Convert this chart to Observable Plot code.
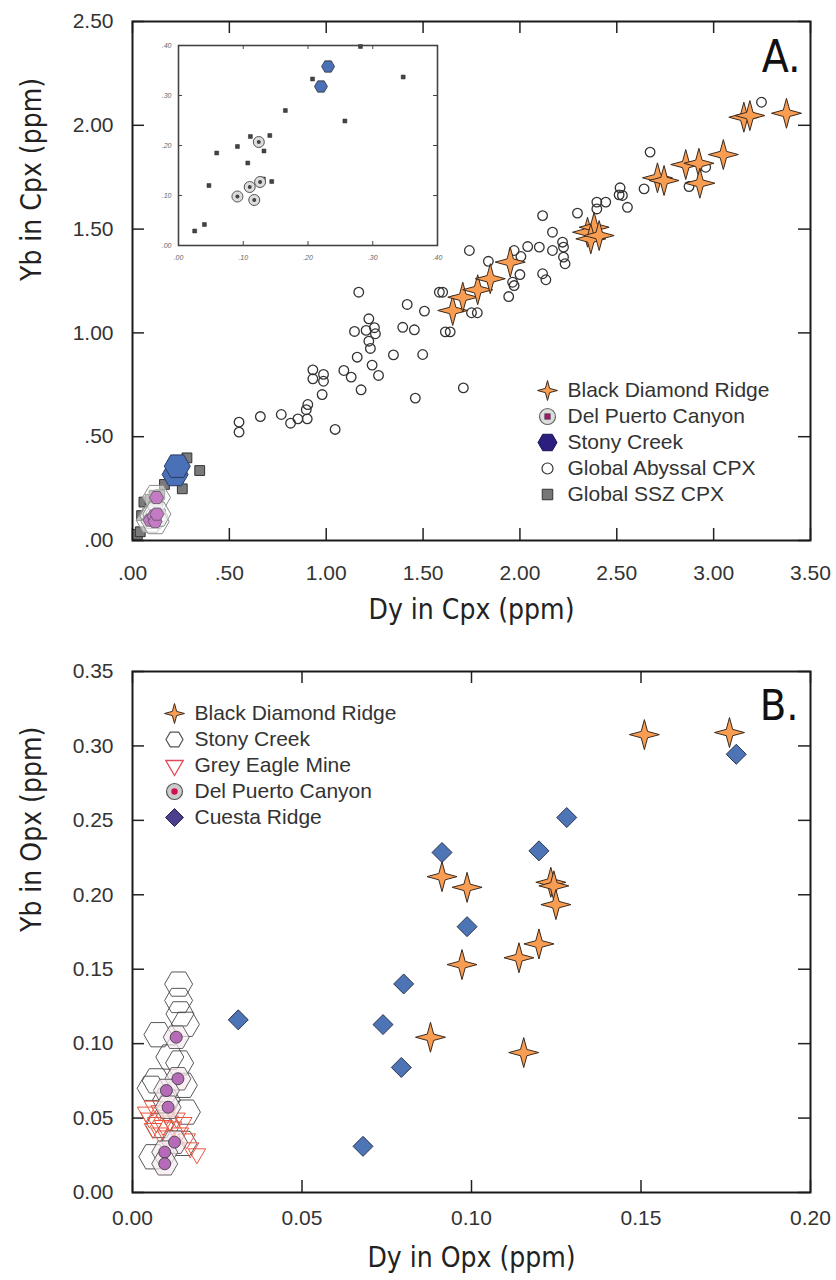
<!DOCTYPE html>
<html>
<head>
<meta charset="utf-8">
<script src="https://cdn.jsdelivr.net/npm/d3@7"></script>
<script src="https://cdn.jsdelivr.net/npm/@observablehq/plot@0.6"></script>
<style>
  body { margin: 0; background: #fff; }
  #wrap { position: relative; width: 836px; height: 1280px; overflow: hidden; }
  #wrap > svg { position: absolute; }
</style>
</head>
<body>
<div id="wrap"></div>
<script>
// ---------- Panel A: clinopyroxene, Dy vs Yb (ppm) ----------
const cpxBlackDiamond = [
  [1.653,1.108],[1.705,1.172],[1.782,1.208],[1.847,1.261],[1.950,1.341],
  [2.349,1.485],[2.383,1.509],[2.366,1.453],[2.409,1.469],
  [2.710,1.747],[2.744,1.734],[2.856,1.811],[2.924,1.817],[2.929,1.721],
  [3.050,1.859],[3.156,2.039],[3.187,2.047],[3.376,2.058]
];
const cpxAbyssal = [
  [0.55,0.57],[0.55,0.522],[0.66,0.597],[0.768,0.607],[0.816,0.565],[0.854,0.586],
  [0.902,0.586],[0.897,0.63],[0.905,0.655],[0.979,0.703],[0.931,0.822],[0.931,0.779],
  [0.986,0.80],[0.986,0.767],[1.046,0.535],[1.091,0.819],[1.129,0.787],[1.180,0.726],
  [1.160,0.883],[1.237,0.845],[1.27,0.795],[1.228,0.925],[1.220,0.96],[1.146,1.007],
  [1.206,1.012],[1.249,1.025],[1.254,0.996],[1.220,1.068],[1.168,1.196],[1.347,0.894],
  [1.498,0.896],[1.46,0.686],[1.708,0.735],[1.395,1.027],[1.455,1.015],[1.418,1.137],
  [1.507,1.105],[1.584,1.196],[1.601,1.196],[1.615,1.005],[1.640,1.005],[1.750,1.097],
  [1.780,1.097],[1.739,1.397],[1.837,1.345],[1.942,1.175],[1.962,1.244],[1.97,1.228],
  [2.0,1.281],[1.97,1.397],[2.005,1.368],[2.04,1.416],[2.1,1.413],[2.117,1.565],
  [2.168,1.485],[2.168,1.397],[2.22,1.437],[2.225,1.413],[2.225,1.365],[2.233,1.333],
  [2.117,1.285],[2.134,1.256],[2.297,1.577],[2.397,1.63],[2.443,1.63],[2.397,1.597],
  [2.517,1.699],[2.529,1.662],[2.512,1.665],[2.555,1.605],[2.641,1.694],[2.672,1.871],
  [2.873,1.705],[2.959,1.798],[3.247,2.111]
];
const cpxSSZ = [
  [0.025,0.029],[0.040,0.042],[0.047,0.120],[0.059,0.185],[0.091,0.198],[0.107,0.165],
  [0.111,0.218],[0.131,0.133],[0.132,0.189],[0.141,0.220],[0.144,0.128],[0.165,0.270],
  [0.207,0.333],[0.257,0.249],[0.281,0.398],[0.347,0.337]
];
const cpxDelPuerto = [[0.091,0.098],[0.110,0.117],[0.117,0.091],[0.124,0.207],[0.126,0.127]];
const cpxStony = [[0.220,0.318],[0.231,0.358]];

const cpxXTicks = [0, 0.5, 1, 1.5, 2, 2.5, 3, 3.5];
const cpxXLabels = [".00", ".50", "1.00", "1.50", "2.00", "2.50", "3.00", "3.50"];
const cpxYTicks = [0, 0.5, 1, 1.5, 2, 2.5];
const cpxYLabels = [".00", ".50", "1.00", "1.50", "2.00", "2.50"];
const insetTicks = [0, 0.1, 0.2, 0.3, 0.4];
const insetLabels = [".00", ".10", ".20", ".30", ".40"];
const cpxLegend = ["Black Diamond Ridge", "Del Puerto Canyon", "Stony Creek", "Global Abyssal CPX", "Global SSZ CPX"];

// ---------- Panel B: orthopyroxene, Dy vs Yb (ppm) ----------
const opxBlackDiamond = [
  [0.151,0.3076],[0.1761,0.309],[0.0913,0.2122],[0.0987,0.205],[0.1234,0.2084],[0.1243,0.206],
  [0.1249,0.1934],[0.1199,0.167],[0.114,0.1577],[0.0972,0.1531],[0.0879,0.1043],[0.1154,0.094]
];
const opxCuesta = [
  [0.1781,0.2944],[0.1281,0.2519],[0.0913,0.2284],[0.1199,0.2295],[0.0987,0.1786],
  [0.0800,0.1401],[0.0739,0.1128],[0.0312,0.116],[0.0680,0.031],[0.0793,0.084]
];
const opxStony = [
  [0.0136,0.140],[0.0136,0.129],[0.0140,0.120],[0.0156,0.113],[0.0075,0.106],[0.0110,0.091],
  [0.0139,0.087],[0.0070,0.075],[0.0055,0.070],[0.0159,0.054],[0.0149,0.033],[0.0060,0.024],
  [0.0100,0.062],[0.0150,0.072],[0.0080,0.045]
];
const opxGreyEagle = [
  [0.006,0.058],[0.008,0.055],[0.010,0.052],[0.005,0.050],[0.007,0.047],[0.009,0.045],
  [0.011,0.048],[0.013,0.050],[0.006,0.043],[0.012,0.044],[0.008,0.040],[0.010,0.038],
  [0.014,0.040],[0.016,0.036],[0.017,0.030],[0.019,0.026],[0.004,0.054],[0.015,0.047]
];
const opxDelPuerto = [
  [0.0129,0.1043],[0.0134,0.0764],[0.0100,0.0685],[0.0105,0.0573],[0.0124,0.0338],
  [0.0095,0.0271],[0.0095,0.0193]
];
const opxXTicks = [0, 0.05, 0.1, 0.15, 0.2];
const opxXLabels = ["0.00", "0.05", "0.10", "0.15", "0.20"];
const opxYTicks = [0, 0.05, 0.1, 0.15, 0.2, 0.25, 0.3, 0.35];
const opxYLabels = ["0.00", "0.05", "0.10", "0.15", "0.20", "0.25", "0.30", "0.35"];
const opxLegend = ["Black Diamond Ridge", "Stony Creek", "Grey Eagle Mine", "Del Puerto Canyon", "Cuesta Ridge"];

// ---------- symbols ----------
function polygon(points) {
  return {
    draw(ctx, size) {
      const r = Math.sqrt(size / Math.PI);
      points.forEach(([px, py], i) => (i ? ctx.lineTo(px * r, py * r) : ctx.moveTo(px * r, py * r)));
      ctx.closePath();
    }
  };
}
const star4 = polygon(d3.range(8).map(i => {
  const a = i * Math.PI / 4 - Math.PI / 2, k = i % 2 ? 0.3 : 1;
  return [k * Math.cos(a), k * Math.sin(a)];
}));
const hexagon = polygon(d3.range(6).map(i => [Math.cos(i * Math.PI / 3), Math.sin(i * Math.PI / 3)]));
const diamond = polygon([[0, -1], [1, 0], [0, 1], [-1, 0]]);
const square = polygon([[-0.7, -0.7], [0.7, -0.7], [0.7, 0.7], [-0.7, 0.7]]);
const triangleDown = polygon([[-0.87, -0.5], [0.87, -0.5], [0, 1]]);

const SANS = "Liberation Sans, Arial, Helvetica, sans-serif";
const NARROW = "Liberation Sans Narrow, Arial Narrow, DejaVu Sans Condensed, sans-serif";
const ORANGE = "#f89d52", STAR_STROKE = "#3a2a1e";
const xy = {x: d => d[0], y: d => d[1]};

// inward ticks on all four sides of the frame
function innerTicks(xt, yt, len, fw, fh, stroke, strokeWidth) {
  return [
    Plot.ruleX(xt, {stroke, strokeWidth, insetTop: fh - len}),
    Plot.ruleX(xt, {stroke, strokeWidth, insetBottom: fh - len}),
    Plot.ruleY(yt, {stroke, strokeWidth, insetRight: fw - len}),
    Plot.ruleY(yt, {stroke, strokeWidth, insetLeft: fw - len})
  ];
}

function legend(names, symbols, x0, y0, step) {
  return names.flatMap((name, i) => [
    ...symbols[i].map(s => Plot.dot([name], {frameAnchor: "top-left", dx: x0, dy: y0 + i * step, ...s})),
    Plot.text([name], {frameAnchor: "top-left", dx: x0 + 20, dy: y0 + i * step, text: d => d,
      textAnchor: "start", lineAnchor: "middle", fontSize: 21, fill: "#333", fontFamily: SANS})
  ]);
}

const wrap = document.getElementById("wrap");
const ML = 132, MR = 26, FW = 836 - ML - MR;

// ---------- Panel A ----------
const aTop = 21, aBottom = 540, aH = 640;
const plotA = Plot.plot({
  width: 836, height: aH,
  marginLeft: ML, marginRight: MR, marginTop: aTop, marginBottom: aH - aBottom,
  x: {domain: [0, 3.5]},
  y: {domain: [0, 2.5]},
  style: {fontFamily: SANS, background: "transparent", color: "#333"},
  marks: [
    Plot.axisX(cpxXTicks, {tickSize: 0, tickPadding: 25, fontSize: 21, label: null,
      tickFormat: d => cpxXLabels[cpxXTicks.indexOf(d)]}),
    Plot.axisY(cpxYTicks, {tickSize: 0, tickPadding: 19, fontSize: 21, label: null,
      tickFormat: d => cpxYLabels[cpxYTicks.indexOf(d)]}),
    ...innerTicks(cpxXTicks, cpxYTicks, 12, FW, aBottom - aTop, "#222", 1.5),
    Plot.dot(cpxAbyssal, {...xy, r: 4.8, symbol: "circle", fill: "none", stroke: "#333", strokeWidth: 1.3}),
    Plot.dot(cpxSSZ, {...xy, r: 7, symbol: square, fill: "#7a7a7a", stroke: "#333", strokeWidth: 1}),
    Plot.dot(cpxDelPuerto, {...xy, r: 14, symbol: hexagon, fill: "#fff", fillOpacity: 0.55, stroke: "#8a8a8a", strokeWidth: 1}),
    Plot.dot(cpxDelPuerto, {...xy, r: 7, symbol: hexagon, fill: "#c47ac4", stroke: "#555", strokeWidth: 0.8}),
    Plot.dot(cpxStony, {...xy, r: 13, symbol: hexagon, fill: "#4a70b8", stroke: "#2a3a66", strokeWidth: 1}),
    Plot.dot(cpxBlackDiamond, {...xy, r: 15, symbol: star4, fill: ORANGE, stroke: STAR_STROKE, strokeWidth: 1}),
    Plot.frame({stroke: "#1a1a1a", strokeWidth: 2}),
    Plot.text(["Dy in Cpx (ppm)"], {frameAnchor: "bottom", dy: 70, text: d => d, fontSize: 28,
      fontFamily: NARROW, fill: "#222", lineAnchor: "middle"}),
    Plot.text(["Yb in Cpx (ppm)"], {frameAnchor: "left", dx: -100, rotate: -90, text: d => d, fontSize: 28,
      fontFamily: NARROW, fill: "#222", lineAnchor: "middle"}),
    Plot.text(["A."], {frameAnchor: "top-right", dx: -10, dy: 36, text: d => d, fontSize: 44,
      fontFamily: NARROW, fill: "#111", textAnchor: "end", lineAnchor: "middle"}),
    ...legend(cpxLegend, [
      [{r: 10, symbol: star4, fill: ORANGE, stroke: STAR_STROKE, strokeWidth: 1}],
      [{r: 8, symbol: "circle", fill: "#ddd", stroke: "#666", strokeWidth: 1.2},
       {r: 4, symbol: square, fill: "#a3176f", stroke: "#444", strokeWidth: 0.6}],
      [{r: 9.5, symbol: hexagon, fill: "#2a1f7f", stroke: "#1a1450", strokeWidth: 1}],
      [{r: 5.5, symbol: "circle", fill: "none", stroke: "#333", strokeWidth: 1.2}],
      [{r: 7.5, symbol: square, fill: "#777", stroke: "#333", strokeWidth: 1}]
    ], 415, 369, 26)
  ]
});
plotA.style.left = "0px";
plotA.style.top = "0px";
wrap.appendChild(plotA);

// ---------- Panel A inset: the low-concentration corner enlarged ----------
const inL = 150, inT = 36;
const inset = Plot.plot({
  width: 300, height: 228,
  marginLeft: 28, marginRight: 13, marginTop: 9, marginBottom: 19,
  x: {domain: [0, 0.4]},
  y: {domain: [0, 0.4]},
  style: {fontFamily: SANS, background: "#fff", color: "#666"},
  marks: [
    Plot.axisX(insetTicks, {tickSize: 0, tickPadding: 10, fontSize: 7, fontStyle: "italic", label: null,
      tickFormat: d => insetLabels[insetTicks.indexOf(d)]}),
    Plot.axisY(insetTicks, {tickSize: 0, tickPadding: 7, fontSize: 7, fontStyle: "italic", label: null,
      tickFormat: d => insetLabels[insetTicks.indexOf(d)]}),
    ...innerTicks(insetTicks, insetTicks, 4, 300 - 28 - 13, 228 - 9 - 19, "#444", 1),
    Plot.dot(cpxSSZ, {...xy, r: 2.8, symbol: square, fill: "#444", stroke: "#222", strokeWidth: 0.5}),
    Plot.dot(cpxDelPuerto, {...xy, r: 5.5, symbol: "circle", fill: "#ddd", stroke: "#555", strokeWidth: 1}),
    Plot.dot(cpxDelPuerto, {...xy, r: 2, symbol: "circle", fill: "#444"}),
    Plot.dot(cpxStony, {...xy, r: 6.5, symbol: hexagon, fill: "#4a70b8", stroke: "#333", strokeWidth: 0.8}),
    Plot.frame({stroke: "#444", strokeWidth: 1.6})
  ]
});
inset.style.left = inL + "px";
inset.style.top = inT + "px";
wrap.appendChild(inset);

// ---------- Panel B ----------
const bOff = 640, bTop = 671 - bOff, bBottom = 1192 - bOff, bH = 640;
const plotB = Plot.plot({
  width: 836, height: bH,
  marginLeft: ML, marginRight: MR, marginTop: bTop, marginBottom: bH - bBottom,
  x: {domain: [0, 0.2]},
  y: {domain: [0, 0.35]},
  style: {fontFamily: SANS, background: "transparent", color: "#333"},
  marks: [
    Plot.axisX(opxXTicks, {tickSize: 0, tickPadding: 18, fontSize: 21, label: null,
      tickFormat: d => opxXLabels[opxXTicks.indexOf(d)]}),
    Plot.axisY(opxYTicks, {tickSize: 0, tickPadding: 19, fontSize: 21, label: null,
      tickFormat: d => opxYLabels[opxYTicks.indexOf(d)]}),
    ...innerTicks(opxXTicks, opxYTicks, 12, FW, bBottom - bTop, "#222", 1.5),
    Plot.dot(opxStony, {...xy, r: 14, symbol: hexagon, fill: "none", stroke: "#444", strokeWidth: 0.9}),
    Plot.dot(opxGreyEagle, {...xy, r: 10, symbol: triangleDown, fill: "none", stroke: "#e8553f", strokeWidth: 1}),
    Plot.dot(opxDelPuerto, {...xy, r: 13, symbol: hexagon, fill: "#f5e9f0", fillOpacity: 0.7, stroke: "#555", strokeWidth: 0.9}),
    Plot.dot(opxDelPuerto, {...xy, r: 6, symbol: "circle", fill: "#b56bb8", stroke: "#333", strokeWidth: 0.8}),
    Plot.dot(opxCuesta, {...xy, r: 10, symbol: diamond, fill: "#4d74b5", stroke: "#2b3550", strokeWidth: 1}),
    Plot.dot(opxBlackDiamond, {...xy, r: 15, symbol: star4, fill: ORANGE, stroke: STAR_STROKE, strokeWidth: 1}),
    Plot.frame({stroke: "#1a1a1a", strokeWidth: 2}),
    Plot.text(["Dy in Opx (ppm)"], {frameAnchor: "bottom", dy: 66, text: d => d, fontSize: 28,
      fontFamily: NARROW, fill: "#222", lineAnchor: "middle"}),
    Plot.text(["Yb in Opx (ppm)"], {frameAnchor: "left", dx: -100, rotate: -90, text: d => d, fontSize: 28,
      fontFamily: NARROW, fill: "#222", lineAnchor: "middle"}),
    Plot.text(["B."], {frameAnchor: "top-right", dx: -12, dy: 35, text: d => d, fontSize: 43,
      fontFamily: NARROW, fill: "#111", textAnchor: "end", lineAnchor: "middle"}),
    ...legend(opxLegend, [
      [{r: 10, symbol: star4, fill: ORANGE, stroke: STAR_STROKE, strokeWidth: 1}],
      [{r: 8.5, symbol: hexagon, fill: "none", stroke: "#555", strokeWidth: 1.2}],
      [{r: 10, symbol: triangleDown, fill: "none", stroke: "#e04a5a", strokeWidth: 1.3}],
      [{r: 8, symbol: "circle", fill: "#ccc", stroke: "#555", strokeWidth: 1.2},
       {r: 3.2, symbol: "circle", fill: "#d0104a"}],
      [{r: 9, symbol: diamond, fill: "#4b3f8e", stroke: "#2a2450", strokeWidth: 1}]
    ], 42, 42, 26)
  ]
});
plotB.style.left = "0px";
plotB.style.top = bOff + "px";
wrap.appendChild(plotB);
</script>
</body>
</html>
